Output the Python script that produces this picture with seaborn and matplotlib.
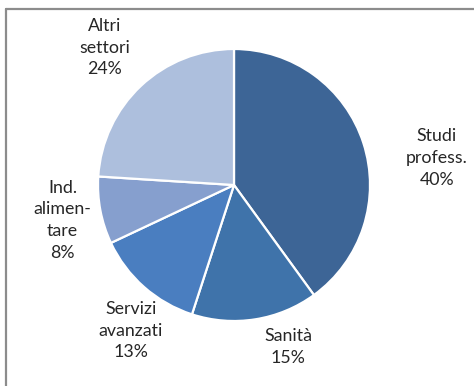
import matplotlib
matplotlib.use("Agg")
import matplotlib.pyplot as plt
from matplotlib.lines import Line2D
import seaborn as sns

# Sector shares (%)
sectors = ["Studi\nprofess.", "Sanità", "Servizi\navanzati", "Ind.\nalimen-\ntare", "Altri\nsettori"]
shares = [40, 15, 13, 8, 24]

colors = ["#3D6596", "#3F73AA", "#4A7EC0", "#869FCE", "#ADBFDD"]

# label anchor points in data units (pie radius = 1)
label_xy = [(1.49, 0.20), (0.40, -1.19), (-0.76, -1.07), (-1.26, -0.26), (-0.95, 1.01)]

sns.set_theme(style="white")
plt.rcParams["font.family"] = ["Lato", "DejaVu Sans"]

fig = plt.figure(figsize=(4.74, 3.86), dpi=100)
fig.patch.set_facecolor("white")

W, H = 474, 386
cx, cy, r = 234, 185, 136
ax = fig.add_axes([(cx - r) / W, (H - cy - r) / H, 2 * r / W, 2 * r / H])

ax.pie(shares, colors=colors, startangle=90, counterclock=False, radius=1,
       wedgeprops=dict(edgecolor="white", linewidth=1.6))
ax.set_xlim(-1, 1)
ax.set_ylim(-1, 1)
ax.set_aspect("equal")
ax.axis("off")

for name, val, (x, y) in zip(sectors, shares, label_xy):
    ax.text(x, y, f"{name}\n{val}%", ha="center", va="center",
            fontsize=12.8, color="#262626", linespacing=1.45, clip_on=False)

# frame lines (left and top)
fig.add_artist(Line2D([5.5 / W, 5.5 / W], [0, 1 - 8.5 / H], transform=fig.transFigure,
                      color="#8C8C8C", linewidth=1.6))
fig.add_artist(Line2D([5.5 / W, 1], [1 - 8.5 / H, 1 - 8.5 / H], transform=fig.transFigure,
                      color="#8C8C8C", linewidth=1.6))

fig.savefig("out.png", dpi=100)
